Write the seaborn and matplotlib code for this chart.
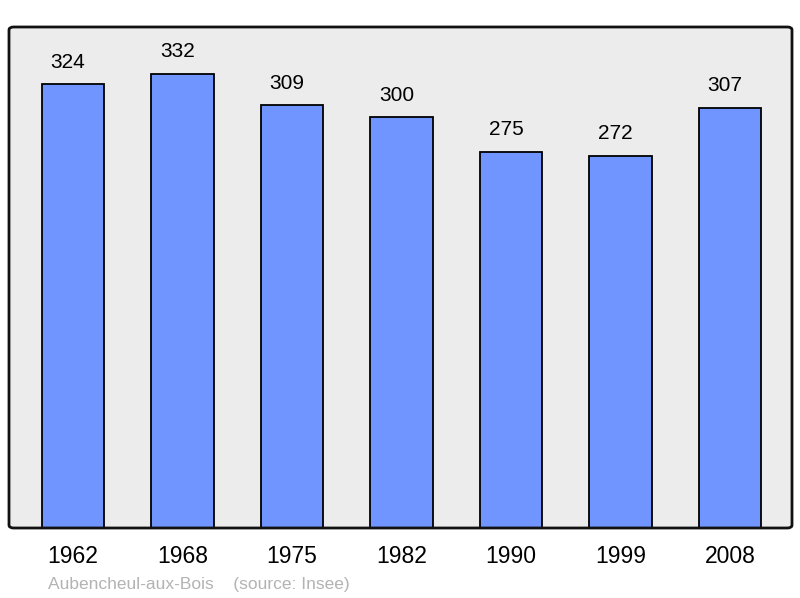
import matplotlib
matplotlib.use("Agg")
import matplotlib.pyplot as plt
import seaborn as sns
import pandas as pd
from matplotlib.patches import FancyBboxPatch

# data
years = ["1962", "1968", "1975", "1982", "1990", "1999", "2008"]
population = [324, 332, 309, 300, 275, 272, 307]

sns.set_style("white")
plt.rcParams['font.family'] = ['Liberation Sans', 'DejaVu Sans']

df = pd.DataFrame({'year': years, 'pop': population})

fig = plt.figure(figsize=(8, 5.98), dpi=100)
ax = fig.add_axes([9 / 800, 1 - 528 / 598, 783 / 800, 501 / 598])

sns.barplot(data=df, x='year', y='pop', color='#7095ff', saturation=1,
            width=0.57, edgecolor='black', linewidth=1.3, ax=ax, zorder=2)

ax.set_facecolor('#ececec')
ax.set_xlim(-0.585, 6.565)
ax.set_ylim(0, 366)
for s in ax.spines.values():
    s.set_visible(False)

# rounded frame
frame = FancyBboxPatch((0, 0), 1, 1, boxstyle="round,pad=0,rounding_size=0.006",
                       transform=ax.transAxes, fill=False, edgecolor='#111111',
                       linewidth=2, zorder=5, clip_on=False)
ax.add_patch(frame)

# value labels, sitting a bit left of the bar centre like the original
for i, v in enumerate(population):
    ax.annotate(str(v), (i, v + 16), xytext=(-3.6, 0), textcoords='offset points',
                ha='center', va='center', fontsize=15, color='black')

ax.set_xlabel('')
ax.set_ylabel('')
ax.set_yticks([])
ax.tick_params(axis='x', length=0, labelsize=16.5, pad=12, labelcolor='black')

fig.text(48 / 800, 1 - 584 / 598, "Aubencheul-aux-Bois    (source: Insee)",
         fontsize=12.5, color='#b3b3b3', ha='left', va='center')

fig.savefig('out.png', dpi=100)
